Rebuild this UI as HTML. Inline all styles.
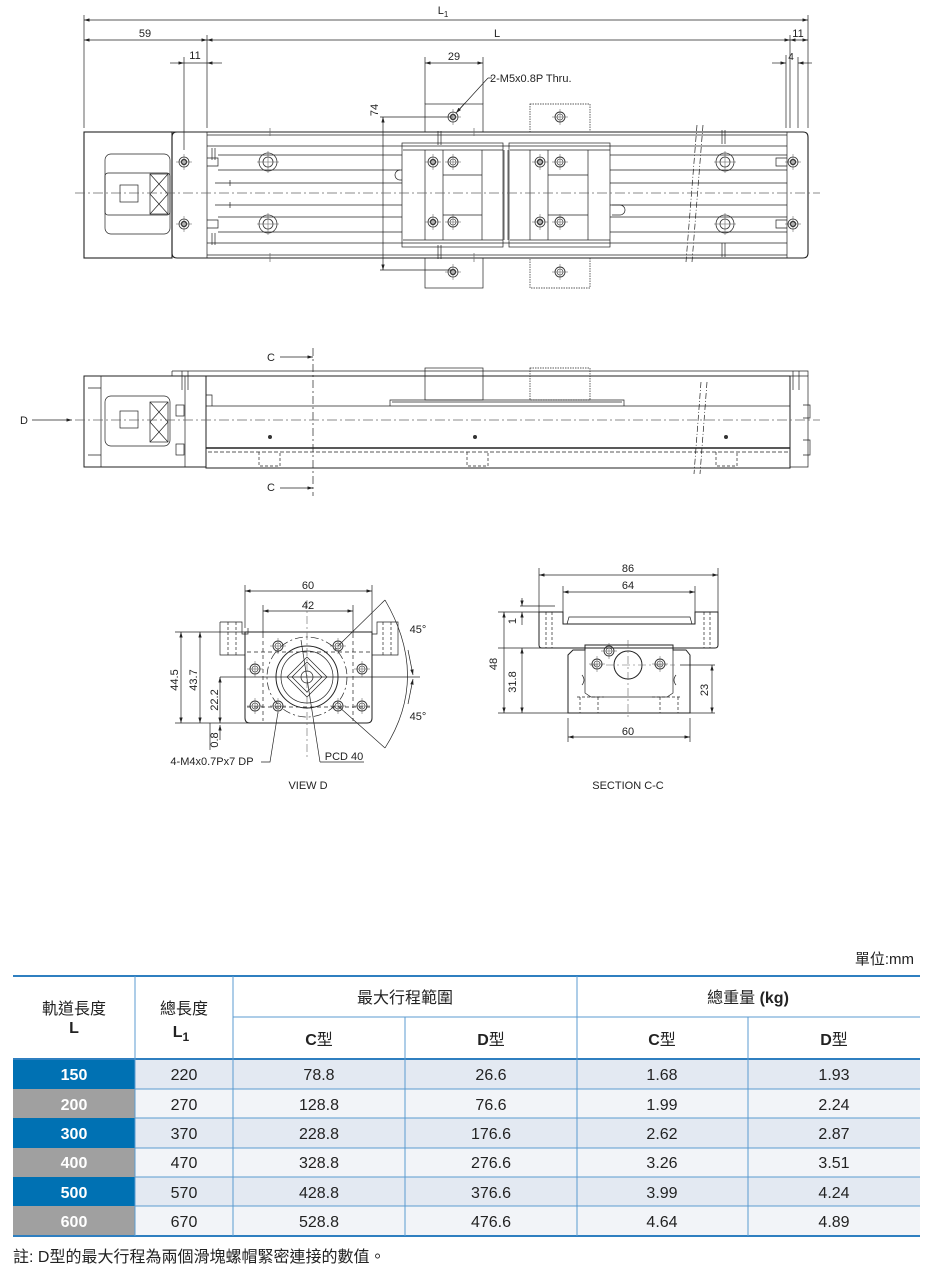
<!DOCTYPE html>
<html><head><meta charset="utf-8"><style>
html,body{margin:0;padding:0;background:#fff;}
svg{display:block;}
text{font-family:"Liberation Sans","Noto Sans CJK TC",sans-serif;}
</style></head><body>
<svg width="928" height="1268" viewBox="0 0 928 1268" xmlns="http://www.w3.org/2000/svg">
<defs>
<marker id="a" viewBox="0 0 10 6" refX="10" refY="3" markerWidth="8" markerHeight="5" orient="auto-start-reverse"><path d="M0,0L10,3L0,6z" fill="#222"/></marker>
<g id="sh"><circle r="5" fill="none" stroke="#333" stroke-width="0.8"/><circle r="2.5" fill="none" stroke="#333" stroke-width="1.4"/><path d="M-8,0H8M0,-8V8" stroke="#555" stroke-width="0.5"/></g>
<g id="bh"><circle r="9" fill="none" stroke="#333" stroke-width="0.8"/><circle r="5" fill="none" stroke="#333" stroke-width="0.8"/><path d="M-11,0H11M0,-11V11" stroke="#555" stroke-width="0.5"/></g>
<g id="th"><circle r="5" fill="none" stroke="#333" stroke-width="0.9"/><circle r="3" fill="none" stroke="#333" stroke-width="0.6"/><path d="M-8,0H8M0,-8V8" stroke="#555" stroke-width="0.5"/></g>
</defs>

<g stroke="#222" stroke-width="0.7" fill="none">
<!-- top dimensions -->
<path d="M84,15V128M808,15V128M207,35V128M790,35V128M184,57V150M798,57V128M425,57V104M483,57V104"/>
<path d="M84,20H808" marker-start="url(#a)" marker-end="url(#a)"/>
<path d="M84,40H207" marker-start="url(#a)" marker-end="url(#a)"/>
<path d="M207,40H790" marker-start="url(#a)" marker-end="url(#a)"/>
<path d="M790,40H808" marker-start="url(#a)" marker-end="url(#a)"/>
<path d="M170,63H184" marker-end="url(#a)"/><path d="M222,63H207" marker-end="url(#a)"/><path d="M184,63H207"/>
<path d="M772,63H786" marker-end="url(#a)"/><path d="M812,63H798" marker-end="url(#a)"/><path d="M786,55V128"/>
<path d="M425,63H483" marker-start="url(#a)" marker-end="url(#a)"/>
<path d="M488,78H492M488,78L457,112" /><path d="M465,103L456,113" marker-end="url(#a)"/>
<path d="M380,117H453M380,270H453"/>
<path d="M383,117V270" marker-start="url(#a)" marker-end="url(#a)"/>

<!-- top view body -->
<rect x="84" y="132" width="88" height="126" stroke-width="1.1"/>
<rect x="105" y="154" width="65" height="80" rx="6"/>
<rect x="105" y="173" width="65" height="42" rx="3"/>
<rect x="120" y="185" width="18" height="17"/>
<rect x="150" y="174" width="18" height="40"/>
<path d="M150,174L168,194M168,174L150,194M150,194L168,214M168,194L150,214"/>
<path d="M172,132H803Q808,132 808,137V253Q808,258 803,258H177Q172,258 172,253V137Q172,132 177,132Z" stroke-width="1.1"/>
<path d="M207,132V258M787,132V258M207,135H787M207,255H787M207,146H787M207,243H787"/>
<path d="M218,155H402M218,170H402M610,155H787M610,170H787M218,217H402M218,232H402M610,217H787M610,232H787"/>
<path d="M215,183H402M215,205H402M610,183H787M610,205H787M230,180V186M230,202V208"/>
<path d="M207,158H218V166H207M207,220H218V228H207M787,158H776V166H787M787,220H776V228H787"/>
<path d="M400,170a4,4 0 0 0 0,10H402M612,205H620a4,4 0 0 1 0,10H612"/>
<!-- carriages -->
<rect x="402" y="143" width="101" height="104"/>
<rect x="509" y="143" width="101" height="104"/>
<path d="M403,150H503M403,240H503M510,150H610M510,240H610"/>
<path d="M425,150V240M482,150V240M530,150V240M588,150V240M443,150V240M548,150V240M443,175H482M443,215H482M548,175H588M548,215H588"/>
<path d="M504,150V240M508,150V240"/>
<!-- brackets -->
<rect x="425" y="104" width="58" height="28"/>
<rect x="425" y="258" width="58" height="30"/>
<rect x="530" y="104" width="60" height="28" stroke-dasharray="1.5 1"/>
<rect x="530" y="258" width="60" height="30" stroke-dasharray="1.5 1"/>
<!-- studs -->
<path d="M212,148V160M215,148V160M212,233V245M215,233V245M438,131V145M441,131V145M438,245V259M441,245V259M722,130V144M725,130V144M722,243V257M725,243V257"/>
<path d="M270,128V136M270,253V262M474,128V136M474,253V262" stroke="#666"/>
<!-- break -->
<path d="M697,125L686,262M703,125L692,262" stroke-dasharray="6 2 1 2"/>
</g>
<g>
<use href="#sh" x="184" y="162"/><use href="#sh" x="184" y="224"/>
<use href="#sh" x="793" y="162"/><use href="#sh" x="793" y="224"/>
<use href="#bh" x="268" y="162"/><use href="#bh" x="268" y="224"/>
<use href="#bh" x="725" y="162"/><use href="#bh" x="725" y="224"/>
<use href="#sh" x="433" y="162"/><use href="#th" x="453" y="162"/><use href="#sh" x="433" y="222"/><use href="#th" x="453" y="222"/>
<use href="#sh" x="540" y="162"/><use href="#th" x="560" y="162"/><use href="#sh" x="540" y="222"/><use href="#th" x="560" y="222"/>
<use href="#sh" x="453" y="117"/><use href="#sh" x="453" y="272"/><use href="#th" x="560" y="117"/><use href="#th" x="560" y="272"/>
</g>
<path d="M75,193H820" stroke="#666" stroke-width="0.7" stroke-dasharray="10 3 2 3"/>

<!-- side view -->
<g stroke="#222" stroke-width="0.7" fill="none">
<rect x="84" y="376" width="122" height="91" stroke-width="1"/>
<path d="M101,376V467M185,376V467M88,388H101V455H88"/>
<rect x="105" y="396" width="65" height="50" rx="6"/>
<rect x="120" y="411" width="18" height="17"/><rect x="150" y="402" width="18" height="40"/>
<path d="M150,402L168,422M168,402L150,422M150,422L168,442M168,422L150,442"/>
<rect x="176" y="405" width="8" height="11"/><rect x="176" y="444" width="8" height="11"/>
<path d="M172,371H808V376M172,371V376"/>
<rect x="206" y="376" width="584" height="92" stroke-width="1"/>
<path d="M790,376H808V467H790M803,405H810V418H803M803,440H810V455H803"/>
<path d="M206,406H790"/><path d="M206,448H790" stroke-width="1.5"/>
<path d="M208,452H788" stroke-dasharray="4 2"/>
<path d="M206,395H212V406"/>
<rect x="425" y="368" width="58" height="32"/>
<rect x="530" y="368" width="60" height="32" stroke-dasharray="1.5 1"/>
<path d="M390,406V400H624V406M392,402H622" />
<path d="M182,371V390M188,371V390M793,371V390M799,371V390"/>
<path d="M259,452V466H280V452M467,452V466H488V452M716,452V466H737V452" stroke-dasharray="3 2"/>
<path d="M701,382L694,474M707,382L700,474" stroke-dasharray="6 2 1 2"/>
<path d="M313,348V496" stroke-dasharray="8 3 2 3"/>
<path d="M280,357H313" marker-end="url(#a)"/><path d="M280,488H313" marker-end="url(#a)"/>
<path d="M32,420H72" marker-end="url(#a)"/>
</g>
<path d="M75,420H820" stroke="#666" stroke-width="0.7" stroke-dasharray="10 3 2 3"/>
<g fill="#333"><circle cx="270" cy="437" r="2"/><circle cx="475" cy="437" r="2"/><circle cx="726" cy="437" r="2"/></g>

<!-- View D -->
<g stroke="#222" stroke-width="0.7" fill="none">
<path d="M245,632H372V718Q372,723 367,723H250Q245,723 245,718Z" stroke-width="1"/>
<path d="M220,622H242V634H248V628M220,622V655H245M372,628V634H377V622H398V655H372"/>
<path d="M228,622V655M236,622V655M383,622V655M391,622V655" stroke-dasharray="3 2"/>
<path d="M247,652H370M247,707H370M263,634V721M353,634V721" stroke-dasharray="4 3"/>
<circle cx="307" cy="677" r="31" stroke-width="1"/><circle cx="307" cy="677" r="26"/>
<circle cx="307" cy="677" r="40" stroke-dasharray="8 3 2 3"/>
<path d="M307,657L327,677L307,697L287,677Z"/><path d="M307,662L322,677L307,692L292,677Z"/>
<circle cx="307" cy="677" r="6"/>
<path d="M245,585V628M372,585V628M263,605V634M353,605V634"/>
<path d="M245,591H372" marker-start="url(#a)" marker-end="url(#a)"/>
<path d="M263,611H353" marker-start="url(#a)" marker-end="url(#a)"/>
<path d="M175,632H245M195,632H220M220,677H420M175,723H250M210,723V750"/>
<path d="M181,632V723" marker-start="url(#a)" marker-end="url(#a)"/>
<path d="M200,632V723" marker-start="url(#a)" marker-end="url(#a)"/>
<path d="M220,677V723" marker-start="url(#a)" marker-end="url(#a)"/>
<path d="M220,740V725" marker-end="url(#a)"/>
<path d="M338,646L385,600M338,706L385,748"/>
<path d="M385,600Q430,677 385,748"/>
<path d="M408,650L413,675" marker-end="url(#a)"/><path d="M408,704L413,679" marker-end="url(#a)"/>
<path d="M261,762H270L278,712M320,762H364M320,762L301,640"/>
</g>
<path d="M307,600V760" stroke="#666" stroke-width="0.6" stroke-dasharray="8 3 2 3"/>
<g><use href="#th" x="278" y="646"/><use href="#th" x="338" y="646"/><use href="#th" x="278" y="706"/><use href="#th" x="338" y="706"/>
<use href="#th" x="255" y="669"/><use href="#th" x="362" y="669"/><use href="#th" x="255" y="706"/><use href="#th" x="362" y="706"/></g>

<!-- Section C-C -->
<g stroke="#222" stroke-width="0.7" fill="none">
<path d="M539,612H563V624H695V612H718V645Q718,648 715,648H542Q539,648 539,645Z" stroke-width="1"/>
<path d="M567,624L569,617H690L692,624"/>
<path d="M546,612V648M552,612V648M704,612V648M710,612V648" stroke-dasharray="3 2"/>
<path d="M568,713V655L573,650H585V645H673V650H686L690,655V713Z" stroke-width="1"/>
<path d="M585,648V693L591,697H667L673,693V648M582,675Q586,680 582,685M676,675Q672,680 676,685"/>
<path d="M580,697V713M598,697V713M660,697V713M678,697V713" stroke-dasharray="3 2"/>
<path d="M577,697H604M652,697H680" stroke-dasharray="3 2"/>
<circle cx="628" cy="665" r="14" stroke-width="1"/>
<path d="M539,568V612M718,568V612M563,586V617M695,586V617"/>
<path d="M539,575H718" marker-start="url(#a)" marker-end="url(#a)"/>
<path d="M563,592H695" marker-start="url(#a)" marker-end="url(#a)"/>
<path d="M498,612H555M498,648H555M520,606H555M498,713H568M680,665H715M690,713H715M568,718V742M690,718V742"/>
<path d="M504,612V713" marker-start="url(#a)" marker-end="url(#a)"/>
<path d="M522,648V713" marker-start="url(#a)" marker-end="url(#a)"/>
<path d="M522,598V606" marker-end="url(#a)"/><path d="M522,625V612" marker-end="url(#a)"/>
<path d="M712,665V713" marker-start="url(#a)" marker-end="url(#a)"/>
<path d="M568,737H690" marker-start="url(#a)" marker-end="url(#a)"/>
</g>
<path d="M628,640V720M590,665H675" stroke="#666" stroke-width="0.6" stroke-dasharray="8 3 2 3"/>
<g><use href="#th" x="597" y="664"/><use href="#th" x="660" y="664"/><use href="#th" x="609" y="651"/></g>

<!-- drawing labels -->
<g font-size="11" fill="#222" text-anchor="middle">
<text x="443" y="14">L<tspan font-size="8" dy="3">1</tspan></text>
<text x="145" y="37">59</text><text x="497" y="37">L</text><text x="798" y="37">11</text>
<text x="195" y="59">11</text><text x="791" y="60" font-size="10">4</text>
<text x="454" y="60">29</text>
<text x="490" y="82" text-anchor="start">2-M5x0.8P Thru.</text>
<text transform="translate(378,110) rotate(-90)">74</text>
<text x="271" y="361">C</text><text x="271" y="491">C</text><text x="24" y="424">D</text>
<text x="308" y="589">60</text><text x="308" y="609">42</text>
<text x="418" y="633">45°</text><text x="418" y="720">45°</text>
<text transform="translate(178,680) rotate(-90)">44.5</text>
<text transform="translate(197,680) rotate(-90)">43.7</text>
<text transform="translate(218,700) rotate(-90)">22.2</text>
<text transform="translate(218,740) rotate(-90)">0.8</text>
<text x="212" y="765">4-M4x0.7Px7 DP</text>
<text x="344" y="760">PCD 40</text>
<text x="308" y="789">VIEW D</text>
<text x="628" y="572">86</text><text x="628" y="589">64</text>
<text transform="translate(497,664) rotate(-90)">48</text>
<text transform="translate(516,682) rotate(-90)">31.8</text>
<text transform="translate(516,621) rotate(-90)">1</text>
<text transform="translate(708,690) rotate(-90)">23</text>
<text x="628" y="735">60</text>
<text x="628" y="789">SECTION C-C</text>
</g>

<!-- table -->
<text x="914" y="964" font-size="15" fill="#222" text-anchor="end">單位:mm</text>
<g>
<rect x="13" y="1059" width="122" height="30" fill="#0071b3"/>
<rect x="13" y="1089" width="122" height="29" fill="#a0a0a0"/>
<rect x="13" y="1118" width="122" height="30" fill="#0071b3"/>
<rect x="13" y="1148" width="122" height="29" fill="#a0a0a0"/>
<rect x="13" y="1177" width="122" height="29" fill="#0071b3"/>
<rect x="13" y="1206" width="122" height="30" fill="#a0a0a0"/>
<rect x="135" y="1059" width="785" height="30" fill="#e3e9f2"/>
<rect x="135" y="1089" width="785" height="29" fill="#f2f4f8"/>
<rect x="135" y="1118" width="785" height="30" fill="#e3e9f2"/>
<rect x="135" y="1148" width="785" height="29" fill="#f2f4f8"/>
<rect x="135" y="1177" width="785" height="29" fill="#e3e9f2"/>
<rect x="135" y="1206" width="785" height="30" fill="#f2f4f8"/>
</g>
<g stroke="#5b9bd0" stroke-width="1" fill="none">
<path d="M13,976H920" stroke-width="2" stroke="#2f7fc0"/>
<path d="M233,1017H920"/>
<path d="M13,1059H920" stroke-width="2" stroke="#2f7fc0"/>
<path d="M135,1089H920M135,1118H920M135,1148H920M135,1177H920M135,1206H920"/>
<path d="M13,1236H920" stroke-width="2" stroke="#2f7fc0"/>
<path d="M135,976V1236M233,976V1236M577,976V1236M405,1017V1236M748,1017V1236"/>
</g>
<g font-size="16" fill="#222" text-anchor="middle">
<text x="74" y="1014">軌道長度</text><text x="74" y="1033" font-weight="bold">L</text>
<text x="184" y="1014">總長度</text><text x="181" y="1037" font-weight="bold">L<tspan font-size="12" dy="4">1</tspan></text>
<text x="405" y="1003">最大行程範圍</text>
<text x="748" y="1003">總重量 <tspan font-weight="bold">(kg)</tspan></text>
<text x="319" y="1045"><tspan font-weight="bold">C</tspan>型</text>
<text x="491" y="1045"><tspan font-weight="bold">D</tspan>型</text>
<text x="662" y="1045"><tspan font-weight="bold">C</tspan>型</text>
<text x="834" y="1045"><tspan font-weight="bold">D</tspan>型</text>
</g>
<g font-size="16" fill="#fff" text-anchor="middle" font-weight="bold">
<text x="74" y="1080">150</text><text x="74" y="1110">200</text><text x="74" y="1139">300</text>
<text x="74" y="1168">400</text><text x="74" y="1198">500</text><text x="74" y="1227">600</text>
</g>
<g font-size="16" fill="#222" text-anchor="middle">
<text x="184" y="1080">220</text><text x="319" y="1080">78.8</text><text x="491" y="1080">26.6</text><text x="662" y="1080">1.68</text><text x="834" y="1080">1.93</text>
<text x="184" y="1110">270</text><text x="319" y="1110">128.8</text><text x="491" y="1110">76.6</text><text x="662" y="1110">1.99</text><text x="834" y="1110">2.24</text>
<text x="184" y="1139">370</text><text x="319" y="1139">228.8</text><text x="491" y="1139">176.6</text><text x="662" y="1139">2.62</text><text x="834" y="1139">2.87</text>
<text x="184" y="1168">470</text><text x="319" y="1168">328.8</text><text x="491" y="1168">276.6</text><text x="662" y="1168">3.26</text><text x="834" y="1168">3.51</text>
<text x="184" y="1198">570</text><text x="319" y="1198">428.8</text><text x="491" y="1198">376.6</text><text x="662" y="1198">3.99</text><text x="834" y="1198">4.24</text>
<text x="184" y="1227">670</text><text x="319" y="1227">528.8</text><text x="491" y="1227">476.6</text><text x="662" y="1227">4.64</text><text x="834" y="1227">4.89</text>
</g>
<text x="13" y="1262" font-size="16" fill="#222">註: D型的最大行程為兩個滑塊螺帽緊密連接的數值。</text>
</svg>
</body></html>
